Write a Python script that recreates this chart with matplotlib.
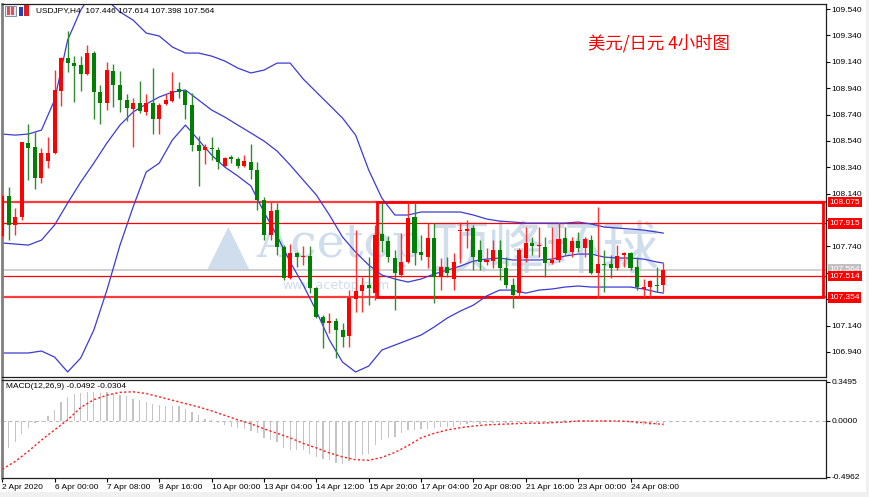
import numpy as np
import matplotlib
matplotlib.use("Agg")
import matplotlib.pyplot as plt
from matplotlib.patches import Rectangle
import matplotlib.transforms as mtransforms

# USDJPY H4 candles, 2 Apr 2020 16:00 -> 24 Apr 2020
opens = [107.819, 108.122, 107.902, 107.963, 108.524, 108.493, 108.258, 108.387, 108.448, 108.918,
         109.168, 109.130, 109.115, 109.047, 109.206, 108.910, 108.827, 109.070, 108.964, 108.850,
         108.782, 108.827, 108.759, 108.827, 108.706, 108.819, 108.842, 108.933, 108.918, 108.812,
         108.509, 108.471, 108.486, 108.471, 108.349, 108.418, 108.402, 108.349, 108.380, 108.319,
         108.092, 107.826, 108.016, 107.735, 107.500, 107.690, 107.659, 107.667, 107.424, 107.204,
         107.159, 107.174, 107.106, 107.060, 107.341, 107.402, 107.447, 107.386, 107.834, 107.781,
         107.652, 107.523, 107.622, 107.963, 107.697, 107.659, 107.804, 107.508, 107.584, 107.493,
         107.857, 107.857, 107.879, 107.712, 107.622, 107.629, 107.712, 107.576, 107.447, 107.386,
         107.652, 107.766, 107.743, 107.735, 107.614, 107.637, 107.804, 107.697, 107.781, 107.728,
         107.788, 107.538, 107.606, 107.606, 107.576, 107.675, 107.690, 107.584, 107.417, 107.432,
         107.447, 107.446]
highs = [108.137, 108.190, 108.031, 108.535, 108.668, 108.607, 108.486, 108.569, 109.077, 109.176,
         109.373, 109.183, 109.183, 109.267, 109.221, 108.964, 109.138, 109.123, 109.070, 108.895,
         108.865, 108.994, 108.895, 109.092, 108.827, 108.895, 109.062, 108.986, 108.926, 108.903,
         108.577, 108.516, 108.569, 108.493, 108.418, 108.433, 108.418, 108.433, 108.516, 108.380,
         108.114, 108.076, 108.069, 107.750, 107.758, 107.697, 107.743, 107.743, 107.432, 107.220,
         107.235, 107.197, 107.159, 107.409, 107.864, 107.508, 107.659, 107.902, 108.069, 107.819,
         107.712, 107.841, 108.069, 108.069, 107.826, 107.917, 107.917, 107.652, 107.659, 107.690,
         107.925, 107.940, 107.902, 107.788, 107.728, 107.788, 107.788, 107.659, 107.500, 107.728,
         107.887, 107.811, 107.887, 107.811, 107.887, 107.917, 107.887, 107.811, 107.849, 107.811,
         107.826, 108.039, 107.712, 107.675, 107.750, 107.697, 107.697, 107.659, 107.493, 107.485,
         107.584, 107.614]
lows = [107.804, 107.788, 107.826, 107.940, 108.243, 108.175, 108.220, 108.334, 108.440, 108.804,
        109.062, 108.835, 108.918, 109.040, 108.706, 108.668, 108.774, 108.797, 108.759, 108.691,
        108.493, 108.751, 108.736, 108.592, 108.592, 108.812, 108.835, 108.865, 108.706, 108.463,
        108.198, 108.365, 108.395, 108.327, 108.342, 108.372, 108.334, 108.342, 108.251, 108.016,
        107.788, 107.788, 107.675, 107.485, 107.495, 107.584, 107.599, 107.386, 107.197, 106.969,
        107.083, 106.894, 106.977, 106.977, 107.242, 107.242, 107.295, 107.333, 107.697, 107.622,
        107.258, 107.508, 107.614, 107.599, 107.637, 107.576, 107.311, 107.409, 107.508, 107.409,
        107.614, 107.728, 107.561, 107.561, 107.599, 107.576, 107.485, 107.424, 107.273, 107.356,
        107.622, 107.675, 107.659, 107.508, 107.606, 107.622, 107.675, 107.659, 107.697, 107.659,
        107.530, 107.349, 107.394, 107.500, 107.561, 107.584, 107.561, 107.409, 107.356, 107.356,
        107.394, 107.398]
closes = [108.122, 107.902, 107.963, 108.531, 108.486, 108.258, 108.448, 108.448, 108.926, 109.168,
          109.130, 109.108, 109.047, 109.206, 108.910, 108.827, 109.077, 108.964, 108.850, 108.789,
          108.827, 108.766, 108.827, 108.706, 108.812, 108.850, 108.918, 108.910, 108.812, 108.509,
          108.463, 108.493, 108.478, 108.380, 108.410, 108.402, 108.349, 108.387, 108.319, 108.092,
          107.826, 108.008, 107.735, 107.500, 107.690, 107.659, 107.667, 107.424, 107.204, 107.159,
          107.174, 107.106, 107.053, 107.349, 107.402, 107.447, 107.424, 107.826, 107.781, 107.659,
          107.538, 107.622, 107.955, 107.690, 107.675, 107.804, 107.508, 107.584, 107.538, 107.622,
          107.864, 107.872, 107.659, 107.622, 107.637, 107.712, 107.576, 107.447, 107.371, 107.712,
          107.766, 107.743, 107.750, 107.614, 107.637, 107.796, 107.690, 107.781, 107.728, 107.796,
          107.538, 107.606, 107.599, 107.576, 107.667, 107.690, 107.576, 107.432, 107.432, 107.477,
          107.440, 107.564]

# Bollinger bands (every 2nd bar)
band_idx = list(range(0, 101, 2)) + [101]
bb_upper = [108.592, 108.584, 108.592, 108.622, 108.850, 109.305, 109.532, 109.684, 109.608, 109.517,
            109.456, 109.358, 109.335, 109.252, 109.206, 109.206, 109.183, 109.146, 109.092, 109.055,
            109.077, 109.130, 109.130, 109.009, 108.910, 108.812, 108.713, 108.584, 108.319, 108.107,
            107.978, 107.978, 108.001, 108.001, 108.001, 108.001, 107.978, 107.948, 107.932, 107.925,
            107.917, 107.917, 107.917, 107.917, 107.925, 107.910, 107.887, 107.879, 107.872, 107.864,
            107.849, 107.841]
bb_middle = [107.766, 107.758, 107.750, 107.788, 107.902, 108.069, 108.228, 108.372, 108.524, 108.660,
             108.759, 108.819, 108.873, 108.910, 108.926, 108.850, 108.774, 108.721, 108.660, 108.600,
             108.539, 108.463, 108.357, 108.243, 108.130, 107.978, 107.811, 107.697, 107.599, 107.523,
             107.493, 107.470, 107.493, 107.531, 107.561, 107.591, 107.629, 107.644, 107.652, 107.637,
             107.637, 107.637, 107.644, 107.667, 107.682, 107.682, 107.659, 107.652, 107.652, 107.644,
             107.622, 107.614]
bb_lower = [106.932, 106.932, 106.932, 106.947, 106.901, 106.788, 106.894, 107.106, 107.409, 107.750,
            108.039, 108.304, 108.372, 108.547, 108.660, 108.547, 108.433, 108.342, 108.274, 108.198,
            108.001, 107.819, 107.622, 107.447, 107.250, 107.030, 106.863, 106.788, 106.833, 106.954,
            106.992, 107.030, 107.068, 107.129, 107.197, 107.250, 107.295, 107.364, 107.409, 107.409,
            107.386, 107.409, 107.417, 107.432, 107.440, 107.432, 107.432, 107.432, 107.432, 107.417,
            107.394, 107.386]

# MACD(12,26,9): main as histogram, signal as dotted line
macd_main = [-0.28, -0.24, -0.19, -0.12, -0.06, -0.02, -0.01, 0.04, 0.10, 0.17,
             0.21, 0.24, 0.25, 0.26, 0.26, 0.25, 0.26, 0.24, 0.23, 0.22,
             0.20, 0.19, 0.17, 0.15, 0.14, 0.13, 0.13, 0.13, 0.11, 0.08,
             0.05, 0.02, 0.01, -0.02, -0.04, -0.05, -0.06, -0.07, -0.09, -0.11,
             -0.15, -0.17, -0.19, -0.24, -0.26, -0.26, -0.26, -0.29, -0.32, -0.34,
             -0.35, -0.37, -0.38, -0.36, -0.33, -0.30, -0.29, -0.21, -0.17, -0.15,
             -0.14, -0.11, -0.08, -0.08, -0.07, -0.07, -0.06, -0.05, -0.05, -0.05,
             -0.04, -0.03, -0.02, -0.03, -0.02, -0.02, -0.025, -0.02, -0.025, -0.02,
             -0.02, -0.015, -0.015, -0.02, -0.015, -0.005, 0.005, 0.01, 0.01, 0.005,
             -0.005, 0.0, 0.005, -0.005, -0.01, -0.01, -0.02, -0.03, -0.035, -0.04,
             -0.04, -0.0492]
signal_idx = band_idx
macd_signal = [-0.43, -0.36, -0.27, -0.17, -0.08, 0.01, 0.12, 0.19, 0.23, 0.255,
               0.26, 0.245, 0.215, 0.185, 0.155, 0.125, 0.09, 0.05, 0.01, -0.025,
               -0.07, -0.11, -0.15, -0.20, -0.24, -0.285, -0.32, -0.345, -0.35, -0.325,
               -0.28, -0.22, -0.15, -0.11, -0.08, -0.06, -0.045, -0.035, -0.03, -0.025,
               -0.02, -0.02, -0.015, -0.01, 0.0, 0.0, 0.0, 0.0, -0.005, -0.015,
               -0.025, -0.0304]

# horizontal levels and the range box
levels_thick = [108.075, 107.354]
levels_thin = [107.915, 107.514]
box_left, box_right = 57.3, 125.4
last_price = 107.564

tick_idx = list(range(0, 97, 8))
tick_labels = ["2 Apr 2020", "6 Apr 00:00", "7 Apr 08:00", "8 Apr 16:00", "10 Apr 00:00",
               "13 Apr 04:00", "14 Apr 12:00", "15 Apr 20:00", "17 Apr 04:00", "20 Apr 08:00",
               "21 Apr 16:00", "23 Apr 00:00", "24 Apr 08:00"]

plt.rcParams['font.family'] = ['Liberation Sans', 'Noto Sans CJK SC', 'DejaVu Sans']
fs = 6

fig = plt.figure(figsize=(8.7, 4.97), dpi=100)
W, H = 870, 497
ax = fig.add_axes([2 / W, 1 - 377 / H, 824 / W, 373 / H])
ax2 = fig.add_axes([2 / W, 1 - 478 / H, 824 / W, 98 / H])

x = np.arange(len(opens))
o = np.array(opens); c = np.array(closes)
hi = np.array(highs); lo = np.array(lows)
up = c >= o
cols = np.where(up, '#ff0000', '#008000')
wick_cols = np.where(up, '#ff3030', '#2e8b2e')

# watermark
wm = '#cfdded'
ax.text(0.275, 0.345, '\u25B2', transform=ax.transAxes, fontsize=40, color=wm,
        ha='center', va='center', zorder=0.5, family='DejaVu Sans')
ax.text(0.41, 0.355, 'Acetop', transform=ax.transAxes, fontsize=34, color=wm,
        ha='center', va='center', zorder=0.5, family='DejaVu Serif')
ax.text(0.405, 0.245, 'www.acetop.com', transform=ax.transAxes, fontsize=9, color=wm,
        ha='center', va='center', zorder=0.5, family='DejaVu Sans')
ax.text(0.66, 0.335, '顶峰环球', transform=ax.transAxes, fontsize=41, color=wm,
        ha='center', va='center', zorder=0.5, family='Noto Sans CJK SC')

# levels
ax.axhline(last_price, color='#c8c8c8', lw=1.2, zorder=1)
for lv in levels_thick:
    ax.axhline(lv, color='#ff3c3c', lw=1.6, zorder=1.2)
for lv in levels_thin:
    ax.axhline(lv, color='#ff0000', lw=0.9, zorder=1.2)
ax.add_patch(Rectangle((box_left, levels_thick[1]), box_right - box_left,
                       levels_thick[0] - levels_thick[1], fill=False, ec='#ff0000', lw=2, zorder=1.3))

# bands
ax.plot(band_idx, bb_upper, color='#3b3bd6', lw=0.9, zorder=2)
ax.plot(band_idx, bb_middle, color='#3b3bd6', lw=0.9, zorder=2)
ax.plot(band_idx, bb_lower, color='#3b3bd6', lw=0.9, zorder=2)

# candles
ax.vlines(x, lo, hi, colors=wick_cols, lw=1, zorder=3)
body_bot = np.minimum(o, c)
body_h = np.maximum(np.abs(c - o), 0.006)
ax.bar(x, body_h, bottom=body_bot, width=0.62, color=cols, lw=0, zorder=4)

ax.set_xlim(-0.03, 125.87)
ax.set_ylim(106.750, 109.578)
ax.set_xticks([])
ax.yaxis.tick_right()
yt = np.round(np.arange(106.94, 109.541, 0.2), 3)
ax.set_yticks(yt)
# labels covered by the level boxes in the terminal are left blank
hidden = [107.54, 107.34]
ax.set_yticklabels(['' if round(v, 2) in hidden else '%.3f' % v for v in yt], fontsize=fs)
ax.tick_params(axis='y', length=3, width=0.8, pad=1, colors='#000000')
for s in ['top', 'bottom', 'right']:
    ax.spines[s].set_color('#202020')
    ax.spines[s].set_linewidth(0.9)
ax.spines['left'].set_color('#808080')
ax.spines['left'].set_linewidth(2)

# price labels on the right scale
trans = mtransforms.blended_transform_factory(ax.transAxes, ax.transData)
ax.text(1.004, last_price, '%.3f' % last_price, transform=trans, fontsize=fs, color='white',
        ha='left', va='center', zorder=10, clip_on=False,
        bbox=dict(boxstyle='square,pad=0.2', fc='#c0c0c0', ec='none'))
for lv in levels_thick + levels_thin:
    ax.text(1.004, lv, '%.3f' % lv, transform=trans, fontsize=fs, color='white',
            ha='left', va='center', zorder=11, clip_on=False,
            bbox=dict(boxstyle='square,pad=0.2', fc='#ff0000', ec='none'))

# header and title
fig.text(36 / W, 1 - 11 / H, 'USDJPY,H4  107.446 107.614 107.398 107.564', fontsize=fs,
         va='center', ha='left')
fig.patches.append(Rectangle((5 / W, 1 - 16 / H), 11 / W, 10 / H, transform=fig.transFigure,
                             fc='#e8e8f0', ec='#7080a0', lw=0.6))
fig.patches.append(Rectangle((7 / W, 1 - 15 / H), 3 / W, 8 / H, transform=fig.transFigure,
                             fc='#e05050', ec='none'))
fig.patches.append(Rectangle((11 / W, 1 - 15 / H), 3 / W, 8 / H, transform=fig.transFigure,
                             fc='#e05050', ec='none'))
fig.patches.append(Rectangle((19 / W, 1 - 16 / H), 4 / W, 9 / H, transform=fig.transFigure,
                             fc='#2040c0', ec='none'))
fig.patches.append(Rectangle((24 / W, 1 - 16 / H), 5 / W, 11 / H, transform=fig.transFigure,
                             fc='#e02020', ec='none'))
fig.text(659 / W, 1 - 43 / H, '美元/日元 4小时图', fontsize=12.5, color='#ff0000',
         ha='center', va='center', family=['Noto Sans CJK SC', 'DejaVu Sans'])

# MACD panel
ax2.axhline(0, color='#b8b8b8', lw=0.8, ls=(0, (3, 3)), zorder=1)
ax2.bar(x, macd_main, width=0.2, color='#c4c4c4', lw=0, zorder=2)
ax2.plot(signal_idx, macd_signal, color='#ff2020', lw=1, ls=(0, (1.6, 1.6)), zorder=3)
ax2.set_xlim(-0.03, 125.87)
ax2.set_ylim(-0.508, 0.365)
ax2.yaxis.tick_right()
ax2.set_yticks([0.3495, 0.0, -0.4962])
ax2.set_yticklabels(['0.3495', '0.0000', '-0.4962'], fontsize=fs)
ax2.tick_params(axis='y', length=3, width=0.8, pad=1)
ax2.set_xticks(tick_idx)
ax2.set_xticklabels(tick_labels, fontsize=fs, ha='left')
ax2.tick_params(axis='x', length=3, width=0.8, pad=1)
for s in ['top', 'bottom', 'right']:
    ax2.spines[s].set_color('#202020')
    ax2.spines[s].set_linewidth(0.9)
ax2.spines['left'].set_color('#808080')
ax2.spines['left'].set_linewidth(2)
ax2.text(4 / 824, 0.93, 'MACD(12,26,9) -0.0492 -0.0304', transform=ax2.transAxes,
         fontsize=fs, ha='left', va='center')

# light frame of the window
fig.patches.append(Rectangle((0, 0), 1, 5 / H, transform=fig.transFigure, fc='#f0f0f0', ec='none'))
fig.patches.append(Rectangle((866 / W, 0), 4 / W, 1, transform=fig.transFigure, fc='#f0f0f0', ec='none'))

fig.savefig('out.png', dpi=100)
